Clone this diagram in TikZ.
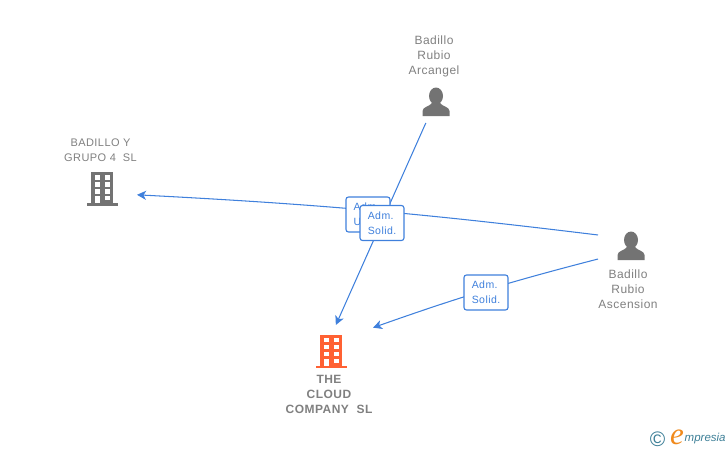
\documentclass[tikz,border=0pt]{standalone}
\usepackage{fontspec}
\setmainfont{Liberation Sans}
\newfontfamily\namefont[LetterSpace=4]{Liberation Sans}
\newfontfamily\logofont{Liberation Serif}
\usetikzlibrary{arrows.meta, positioning}
\definecolor{colorLink}{HTML}{3F80DC}
\definecolor{colorName}{HTML}{808080}
\definecolor{colorIcon}{HTML}{737373}
\definecolor{colorMain}{HTML}{FF6133}
\definecolor{colorLogo}{HTML}{3D7F97}
\definecolor{colorLogoE}{HTML}{F08A1D}
\tikzset{
  iconnode/.style={minimum width=#1, inner sep=0pt, outer sep=0pt},
  nametext/.style={align=center, text=colorName, font=\namefont\fontsize{12}{15}\selectfont, inner sep=0pt},
  linkbox/.style={draw=colorLink, fill=white, rounded corners=2.5pt, line width=1.1pt, text=colorLink, align=left, font=\namefont\fontsize{10.5}{15}\selectfont, minimum width=44pt, minimum height=35pt, inner sep=0pt},
  link/.style={->, colorLink, line width=1.05pt},
  pics/building/.style={code={
    \fill[#1] (-11,-16) rectangle (11,15);
    \fill[#1] (-15.5,15) rectangle (15.5,17.5);
    \foreach \px in {-7.5,2.5}{\foreach \py in {-13,-6,1}{\fill[white] (\px,\py) rectangle ++(5,4.5);}}
    \fill[white] (-7.5,8) rectangle (-2.5,15);
    \fill[white] (2.5,8) rectangle (7.5,12);
  }},
  pics/person/.style={code={
    \fill[#1] (0,-7) ellipse (7 and 8.5);
    \fill[#1] (-13.5,13) -- (-13.5,8) .. controls (-13,3.5) and (-7,4) .. (-4,0) -- (4,0) .. controls (7,4) and (13,3.5) .. (13.5,8) -- (13.5,13) -- cycle;
  }}
}
\begin{document}
\begin{tikzpicture}[x=1pt, y=-1pt, >={Stealth[length=9pt, width=9pt, inset=2.5pt]}]
\useasboundingbox (0,0) rectangle (728,450);
\node[iconnode=40pt, minimum height=40pt] (arcangel) at (436,103) {};
\node[iconnode=66pt, minimum height=46pt] (ascension) at (631,247) {};
\node[iconnode=70pt, minimum height=34pt] (grupo) at (102,188) {};
\node[iconnode=84pt, minimum height=50pt] (company) at (331,350) {};
\pic at (436,103) {person=colorIcon};
\pic at (631,247) {person=colorIcon};
\pic at (102,188) {building=colorIcon};
\pic at (331,350.5) {building=colorMain};
\node[nametext, above=6pt of arcangel, xshift=-2pt] (arcangelName) {Badillo\\Rubio\\Arcangel};
\node[nametext, below=0pt of ascension, xshift=-3pt] (ascensionName) {Badillo\\Rubio\\Ascension};
\node[nametext, font=\namefont\fontsize{11}{15}\selectfont, above=9pt of grupo, xshift=-1.5pt] (grupoName) {BADILLO Y\\GRUPO 4\ \ SL};
\node[nametext, font=\namefont\bfseries\fontsize{12}{15}\selectfont, below=0pt of company, xshift=-2pt] (companyName) {THE\\CLOUD\\COMPANY\ \ SL};
\draw[link] (arcangel.243) -- (company.79);
\draw[link] (ascension.160) to[bend right=2] (grupo.-11);
\draw[link] (ascension.200) to[bend right=2.5] (company.28);
\node[linkbox] (boxUnico) at (368,214.5) {Adm.\\Unico};
\node[linkbox] (boxSolidA) at (382,223) {Adm.\\Solid.};
\node[linkbox] (boxSolidB) at (486,292.5) {Adm.\\Solid.};
\node[text=colorLogo, font=\fontsize{21}{21}\selectfont, inner sep=0pt] (logoC) at (657.5,439) {©};
\node[text=colorLogoE, font=\logofont\itshape\fontsize{31}{31}\selectfont, inner sep=0pt] (logoE) at (677,437) {e};
\node[text=colorLogo, font=\itshape\fontsize{11.5}{11.5}\selectfont, inner sep=0pt, anchor=west] (logoText) at (684.5,439) {mpresia};
\end{tikzpicture}
\end{document}
